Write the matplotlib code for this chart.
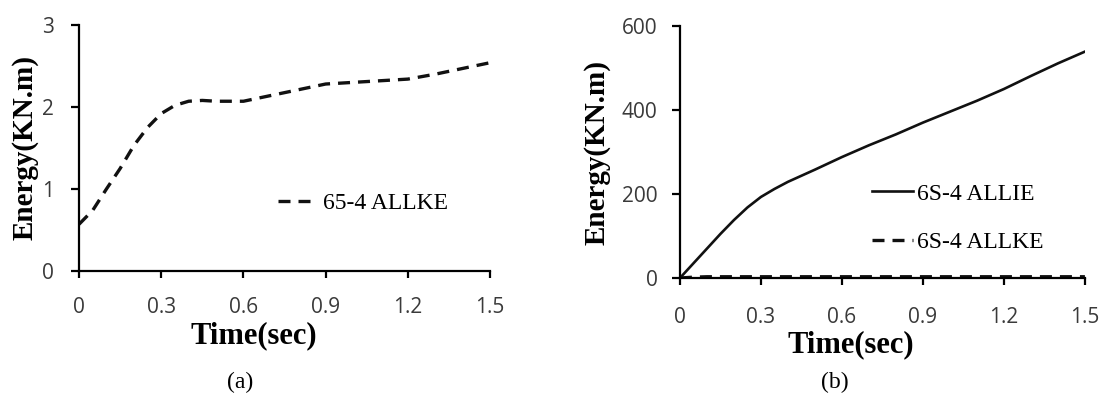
import matplotlib
matplotlib.use('Agg')
import matplotlib.pyplot as plt

# ====================== DATA ======================
# (a) kinetic energy, 65-4
t_a = [0.0, 0.05, 0.1, 0.15, 0.2, 0.25, 0.3, 0.35, 0.4, 0.45, 0.5, 0.6, 0.7, 0.8, 0.9, 1.0, 1.1, 1.2, 1.3, 1.4, 1.5]
allke_a = [0.57, 0.74, 1.0, 1.25, 1.53, 1.75, 1.92, 2.02, 2.07, 2.08, 2.07, 2.07, 2.14, 2.21, 2.28, 2.30, 2.32, 2.34, 2.40, 2.47, 2.54]

# (b) internal and kinetic energy, 6S-4
t_b = [0.0, 0.05, 0.1, 0.15, 0.2, 0.25, 0.3, 0.35, 0.4, 0.5, 0.6, 0.7, 0.8, 0.9, 1.0, 1.1, 1.2, 1.3, 1.4, 1.5]
allie_b = [0, 35, 70, 105, 138, 168, 193, 212, 229, 258, 288, 316, 342, 370, 396, 422, 450, 481, 511, 539]
allke_b = [0, 2, 3, 3, 3, 3, 3, 3, 3, 3, 3, 3, 3, 3, 3, 3, 3, 3, 3, 3]

x_ticks = [0, 0.3, 0.6, 0.9, 1.2, 1.5]
x_labels = ['0', '0.3', '0.6', '0.9', '1.2', '1.5']

serif = 'Liberation Serif'
sans = 'Open Sans'
tick_col = '#3a3a3a'
line_col = '#111111'
dash = (0, (3.6, 2.4))

fig = plt.figure(figsize=(11.04, 3.94), dpi=100)
ax1 = fig.add_axes([0.0716, 0.3122, 0.3723, 0.6244])
ax2 = fig.add_axes([0.6159, 0.2944, 0.3668, 0.6396])


def style(ax, ymax, ystep, xpad, ypad, xlab_pos, ylab_pos):
    for s in ['top', 'right']:
        ax.spines[s].set_visible(False)
    for s in ['left', 'bottom']:
        ax.spines[s].set_linewidth(1.6)
    ax.set_xlim(0, 1.5)
    ax.set_ylim(0, ymax)
    ax.set_xticks(x_ticks)
    ax.set_xticklabels(x_labels)
    ax.set_yticks(range(0, ymax + 1, ystep))
    ax.tick_params(axis='x', direction='out', length=5, width=1.6, labelsize=15, labelcolor=tick_col, pad=xpad)
    ax.tick_params(axis='y', direction='out', length=6, width=1.6, labelsize=15, labelcolor=tick_col, pad=ypad)
    for lab in ax.get_xticklabels() + ax.get_yticklabels():
        lab.set_fontfamily(sans)
    ax.set_xlabel('Time(sec)', fontfamily=serif, fontweight='bold', fontsize=22, va='center')
    ax.set_ylabel('Energy(KN.m)', fontfamily=serif, fontweight='bold', fontsize=21, va='center')
    ax.xaxis.set_label_coords(*xlab_pos)
    ax.yaxis.set_label_coords(*ylab_pos)


# ====================== (a) ======================
ax1.plot(t_a, allke_a, color=line_col, linewidth=2.4, linestyle=dash, label='65-4 ALLKE')
style(ax1, 3, 1, 14, 12, (0.426, -0.265), (-0.131, 0.5))
ax1.legend(loc='center left', bbox_to_anchor=(0.484, 0.276), frameon=False, borderpad=0, borderaxespad=0,
           prop={'family': serif, 'size': 17}, handlelength=1.45, handletextpad=0.47)
fig.text(0.2174, 0.0305, '(a)', ha='center', va='center', fontfamily=serif, fontsize=17)

# ====================== (b) ======================
ax2.plot(t_b, allie_b, color=line_col, linewidth=1.9, label='6S-4 ALLIE')
ax2.plot(t_b, allke_b, color=line_col, linewidth=2.4, linestyle=dash, label='6S-4 ALLKE')
style(ax2, 600, 200, 16, 10, (0.422, -0.266), (-0.205, 0.5))
ax2.legend(loc='center left', bbox_to_anchor=(0.474, 0.238), frameon=False, borderpad=0, borderaxespad=0,
           prop={'family': serif, 'size': 17}, handlelength=1.74, handletextpad=0.17, labelspacing=1.14)
fig.text(0.7563, 0.0305, '(b)', ha='center', va='center', fontfamily=serif, fontsize=17)

plt.savefig('out.png', dpi=100)
